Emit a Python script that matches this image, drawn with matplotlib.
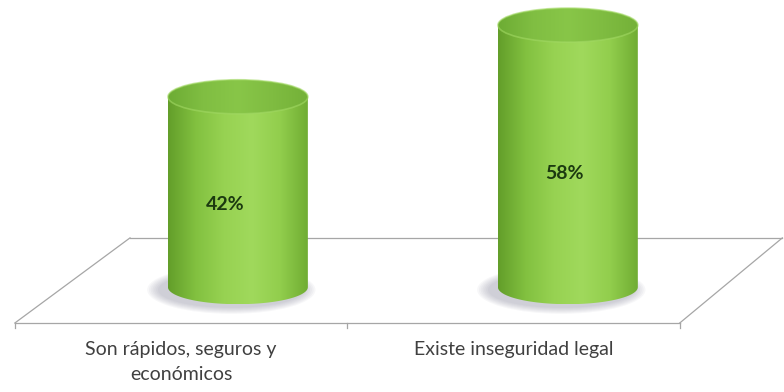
import numpy as np
import matplotlib.pyplot as plt
from matplotlib.path import Path
from matplotlib.patches import PathPatch, Ellipse
from matplotlib.colors import LinearSegmentedColormap

categories = ["Son rápidos, seguros y\neconómicos", "Existe inseguridad legal"]
values = [42, 58]
value_labels = ["42%", "58%"]

plt.rcParams['font.family'] = ['Lato', 'DejaVu Sans']

fig = plt.figure(figsize=(7.84, 3.92), dpi=100)
ax = fig.add_axes([0, 0, 1, 1])
ax.axis('off')

# cylinder geometry (data units: x = category, y = percent)
half_w = 0.212
rim = 3.8
floor_back = 10.5
floor_front = -8.5

body_cmap = LinearSegmentedColormap.from_list(
    "body", ["#639e2a", "#82c140", "#97d252", "#a0d95c", "#92ce4d", "#70ad33"])
top_cmap = LinearSegmentedColormap.from_list(
    "top", ["#6dac34", "#80be42", "#88c648", "#7fbc41", "#74b138"])
grad = np.linspace(0, 1, 256).reshape(1, -1)

# floor parallelogram, drawn first so the cylinders cover the back edge
line_kw = dict(color="#a6a6a6", lw=0.9, zorder=1)
x_fl, x_fr = -0.676, 1.339
x_bl, x_br = -0.327, 1.650
ax.plot([x_bl, x_br], [floor_back, floor_back], **line_kw)
ax.plot([x_fl, x_fr], [floor_front, floor_front], **line_kw)
ax.plot([x_fl, x_bl], [floor_front, floor_back], **line_kw)
ax.plot([x_fr, x_br], [floor_front, floor_back], **line_kw)
for tx in [x_fl, (x_fl + x_fr) / 2, x_fr]:
    ax.plot([tx, tx], [floor_front, floor_front - 1.2], **line_kw)

for i, (val, lab) in enumerate(zip(values, value_labels)):
    cx = i
    base_y = -0.5
    # soft shadow around the base, pushed a little to the left
    for k in range(7):
        ax.add_patch(Ellipse((cx - 0.02, base_y - 0.6), 2 * half_w + 0.02 + 0.011 * k,
                             2 * rim + 0.4 + 0.45 * k, color="#7c7c92",
                             alpha=0.06, lw=0, zorder=2))

    # body outline: sides plus the front half of the base ellipse
    t = np.linspace(np.pi, 2 * np.pi, 60)
    verts = [(cx - half_w, val)]
    verts += list(zip(cx + half_w * np.cos(t), base_y + rim * np.sin(t)))
    verts += [(cx + half_w, val), (cx - half_w, val)]
    codes = [Path.MOVETO] + [Path.LINETO] * (len(verts) - 2) + [Path.CLOSEPOLY]
    body = PathPatch(Path(verts, codes), transform=ax.transData,
                     facecolor="none", edgecolor="none")
    ax.add_patch(body)
    im = ax.imshow(grad, cmap=body_cmap, aspect='auto', zorder=3,
                   extent=[cx - half_w, cx + half_w, base_y - rim, val])
    im.set_clip_path(body)

    # top face
    top = Ellipse((cx, val), 2 * half_w, 2 * rim, transform=ax.transData,
                  facecolor="none", edgecolor="none")
    ax.add_patch(top)
    im2 = ax.imshow(grad, cmap=top_cmap, aspect='auto', zorder=4,
                    extent=[cx - half_w, cx + half_w, val - rim, val + rim])
    im2.set_clip_path(top)
    ax.add_patch(Ellipse((cx, val), 2 * half_w, 2 * rim, facecolor="none",
                         edgecolor="#a2d964", lw=1.2, alpha=0.6, zorder=5))

    ax.text(cx - 0.04 + 0.03 * i, val * 0.43, lab, ha='center', va='center',
            fontsize=14, fontweight='bold', color="#1c3a10", zorder=6)

# category labels sit under the front edge of the floor
front_centers = [x_fl + (x_fr - x_fl) * 0.25, x_fl + (x_fr - x_fl) * 0.75]
for fx, cat in zip(front_centers, categories):
    ax.text(fx, -12.6, cat, ha='center', va='top', fontsize=14,
            color="#404040", linespacing=1.55)

ax.set_xlim(-0.721, 1.655)
ax.set_ylim(-23.9, 63.6)

fig.savefig("out.png", dpi=100)
